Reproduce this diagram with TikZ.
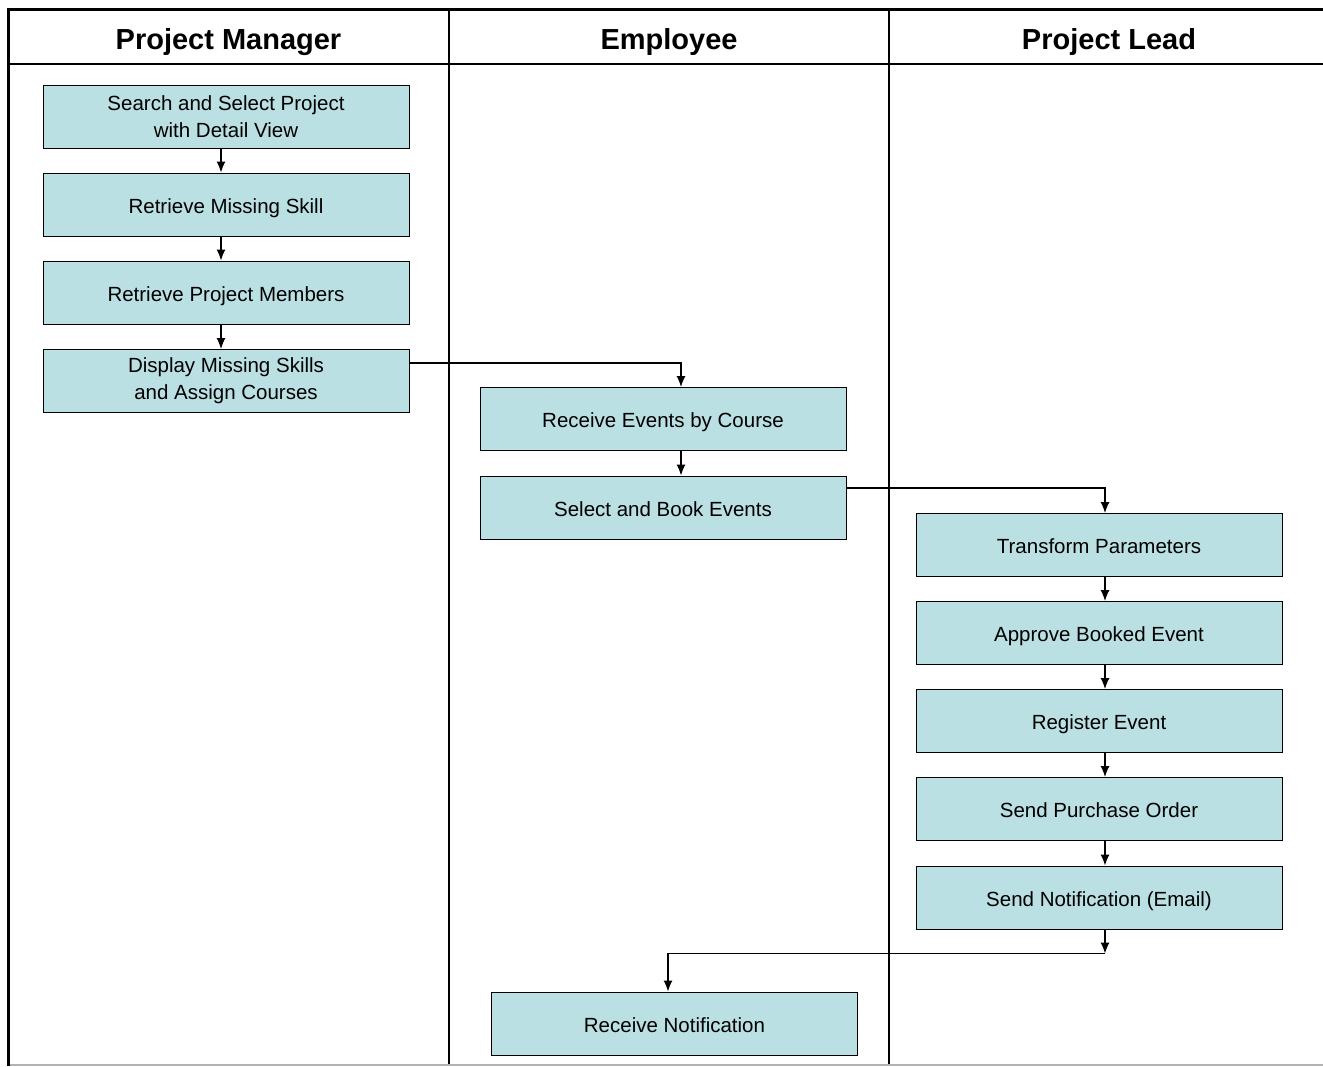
\documentclass[tikz,border=0pt]{standalone}
\usepackage{fontspec}
\setmainfont{Liberation Sans}
\usetikzlibrary{arrows.meta}
\usetikzlibrary{positioning}
\tikzstyle{line} = [draw, line width=1.2pt, -{Latex[length=11pt,width=9pt]}]
\definecolor{paleteal}{RGB}{187,224,227}

\begin{document}
\begin{tikzpicture}[x=1pt, y=-1pt, line width=1pt,
				task/.style = {draw, fill=paleteal,
					minimum width = 366pt, minimum height = 63pt,
					inner sep = 0pt, align = center,
					font = \fontsize{20.5}{27}\selectfont},
				oneline/.style = {task, text height = 17.6pt, text depth = 0pt},
				lane/.style = {anchor = base,
					font = \fontsize{29}{32}\selectfont\bfseries}]
				
				\useasboundingbox (0,0) rectangle (1323,1066);
				
				% Swimlanes
				\draw[line width=3.5pt] (1323,9.5) -- (8.5,9.5) -- (8.5,1066);
				\draw[line width=1.5pt] (8.5,64) -- (1323,64);
				\draw[line width=1.5pt] (449,9.5) -- (449,1066);
				\draw[line width=1.5pt] (889,9.5) -- (889,1066);
				\draw[gray!60, line width=1.5pt] (10,1065) -- (1323,1065);
				
				\node[lane] (pm) at (228.5,49) {Project Manager};
				\node[lane] (emp) at (669,49) {Employee};
				\node[lane] (pl) at (1109,49) {Project Lead};
				
				% Project Manager
				\node[task] (pm1) at (226,116.5) {Search and Select Project\\with Detail View};
				\node[oneline] (pm2) at (226,204.5) {Retrieve Missing Skill};
				\node[oneline] (pm3) at (226,292.5) {Retrieve Project Members};
				\node[task] (pm4) at (226,381) {Display Missing Skills\\and Assign Courses};
				
				% Employee
				\node[oneline] (emp1) at (663,419) {Receive Events by Course};
				\node[oneline] (emp2) at (663,507.5) {Select and Book Events};
				\node[oneline] (notif) at (674.5,1023.5) {Receive Notification};
				
				% Project Lead
				\node[oneline] (pl1) at (1099,545) {Transform Parameters};
				\node[oneline] (pl2) at (1099,633) {Approve Booked Event};
				\node[oneline] (pl3) at (1099,721) {Register Event};
				\node[oneline] (pl4) at (1099,809) {Send Purchase Order};
				\node[oneline] (pl5) at (1099,897.5) {Send Notification (Email)};
				
				% Flow
				\path[line] ([xshift=-5pt]pm1.south) -- ([xshift=-5pt]pm2.north);
				\path[line] ([xshift=-5pt]pm2.south) -- ([xshift=-5pt]pm3.north);
				\path[line] ([xshift=-5pt]pm3.south) -- ([xshift=-5pt]pm4.north);
				\path[line] ([yshift=18pt]pm4.east) -| ([xshift=18pt]emp1.north);
				\path[line] ([xshift=18pt]emp1.south) -- ([xshift=18pt]emp2.north);
				\path[line] ([yshift=19.5pt]emp2.east) -| ([xshift=6pt]pl1.north);
				\path[line] ([xshift=6pt]pl1.south) -- ([xshift=6pt]pl2.north);
				\path[line] ([xshift=6pt]pl2.south) -- ([xshift=6pt]pl3.north);
				\path[line] ([xshift=6pt]pl3.south) -- ([xshift=6pt]pl4.north);
				\path[line] ([xshift=6pt]pl4.south) -- ([xshift=6pt]pl5.north);
				\path[line] ([xshift=6pt]pl5.south) -- ++(0,24) coordinate (split);
				\path[line] (split) -| ([xshift=-6.5pt]notif.north);
				
		\end{tikzpicture}
\end{document}
